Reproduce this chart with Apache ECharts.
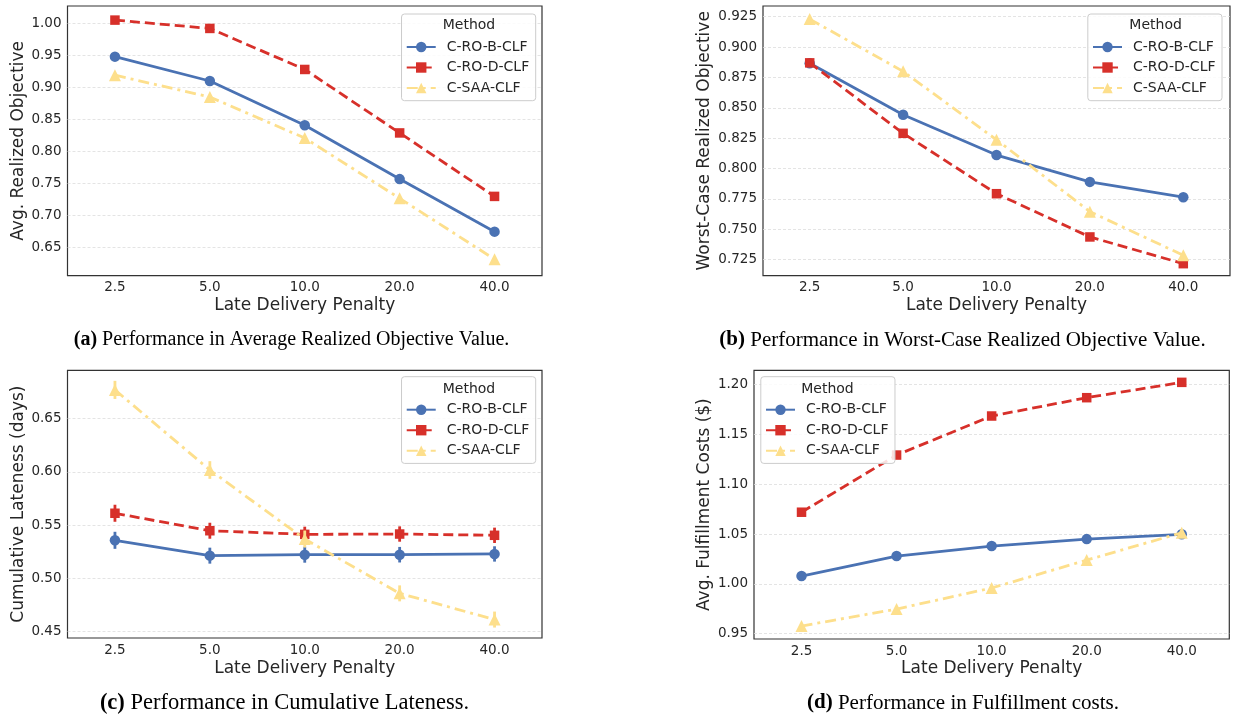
<!DOCTYPE html>
<html>
<head>
<meta charset="utf-8">
<script src="https://cdn.jsdelivr.net/npm/echarts@6/dist/echarts.min.js"></script>
<style>
  html, body { margin: 0; padding: 0; background: #fff; }
  #chart { width: 1233px; height: 717px; }
</style>
</head>
<body>
<div id="chart"></div>
<script>
// ---------------- data ----------------
const categories = ['2.5', '5.0', '10.0', '20.0', '40.0'];
const methods = ['C-RO-B-CLF', 'C-RO-D-CLF', 'C-SAA-CLF'];

// (a) Avg. realized objective
const avgObjB = [0.948, 0.910, 0.841, 0.757, 0.675];
const avgObjD = [1.005, 0.992, 0.928, 0.829, 0.730];
const avgObjS = [0.919, 0.885, 0.821, 0.727, 0.632];

// (b) Worst-case realized objective
const worstB = [0.8866, 0.8443, 0.8111, 0.7890, 0.7764];
const worstD = [0.8870, 0.8290, 0.7793, 0.7437, 0.7217];
const worstS = [0.9230, 0.8800, 0.8237, 0.7645, 0.7286];

// (c) Cumulative lateness (days) with error half-widths
const lateB = [0.5358, 0.5214, 0.5223, 0.5223, 0.5230];
const lateD = [0.5612, 0.5448, 0.5414, 0.5417, 0.5405];
const lateS = [0.6770, 0.6018, 0.5370, 0.4860, 0.4614];
const lateErrB = [0.0080, 0.0075, 0.0075, 0.0073, 0.0072];
const lateErrD = [0.0080, 0.0075, 0.0072, 0.0072, 0.0072];
const lateErrS = [0.0085, 0.0083, 0.0080, 0.0075, 0.0075];

// (d) Avg. fulfillment costs
const costB = [1.0079, 1.0280, 1.0380, 1.0450, 1.0498];
const costD = [1.0720, 1.1294, 1.1686, 1.1870, 1.2024];
const costS = [0.9577, 0.9748, 0.9959, 1.0239, 1.0514];

// tick labels
const ticksA = [0.65, 0.70, 0.75, 0.80, 0.85, 0.90, 0.95, 1.00];
const ticksB = [0.725, 0.750, 0.775, 0.800, 0.825, 0.850, 0.875, 0.900, 0.925];
const ticksC = [0.45, 0.50, 0.55, 0.60, 0.65];
const ticksD = [0.95, 1.00, 1.05, 1.10, 1.15, 1.20];

const yNames = ['Avg. Realized Objective', 'Worst-Case Realized Objective',
                'Cumulative Lateness (days)', 'Avg. Fulfillment Costs ($)'];
const xName = 'Late Delivery Penalty';

// ---------------- styles ----------------
const FONT = "'DejaVu Sans', sans-serif";
const SERIF = "'Liberation Serif', 'Times New Roman', serif";
const TXT = '#262626';
const COLORS = ['#4a72b3', '#d7302a', '#fddf8c'];
const SYMBOLS = ['circle', 'rect', 'triangle'];
const SYMSIZE = [10.5, 9.5, 12];
const DASH = ['solid', [10, 5], [11, 5, 3, 5]];

const grids = [
  { left: 67.5, top: 6, width: 474.5, height: 269.7 },
  { left: 763, top: 6, width: 467, height: 269.7 },
  { left: 67.5, top: 370.3, width: 474.5, height: 267.7 },
  { left: 754, top: 370.3, width: 475.3, height: 268.7 }
];
const yRanges = [[0.6063, 1.027], [0.7118, 0.9338], [0.4441, 0.6954], [0.9447, 1.2145]];
const yTicks = [ticksA, ticksB, ticksC, ticksD];
const yDigits = [2, 3, 2, 2];
const yNameGaps = [39, 50, 39, 41];
const xNameGaps = [21, 21, 22.5, 21];
const panelData = [
  [avgObjB, avgObjD, avgObjS],
  [worstB, worstD, worstS],
  [lateB, lateD, lateS],
  [costB, costD, costS]
];
const lateErr = [lateErrB, lateErrD, lateErrS];

const legendPos = [
  { right: 697.3, top: 14 },
  { right: 11, top: 14 },
  { right: 697.3, top: 376.7 },
  { left: 760.8, top: 376.7 }
];
const methodTitlePos = [[469, 25.7], [1155.6, 25.7], [469, 389], [827.5, 389]];

const captions = [
  { x: 291.5, y: 340, size: 20, tag: '(a)', text: ' Performance in Average Realized Objective Value.' },
  { x: 962.5, y: 340, size: 21, tag: '(b)', text: ' Performance in Worst-Case Realized Objective Value.' },
  { x: 284.5, y: 703, size: 22.5, tag: '(c)', text: ' Performance in Cumulative Lateness.' },
  { x: 963, y: 703, size: 21, tag: '(d)', text: ' Performance in Fulfillment costs.' }
];

// ---------------- build option ----------------
const xAxes = [], yAxes = [], series = [], legends = [], graphics = [];

grids.forEach((g, i) => {
  g.show = true;
  g.borderColor = '#333333';
  g.borderWidth = 1.2;
  g.backgroundColor = 'transparent';

  xAxes.push({
    type: 'category', gridIndex: i, data: categories, boundaryGap: true,
    axisLine: { show: false }, axisTick: { show: false },
    axisLabel: { fontSize: 13.5, color: TXT, fontFamily: FONT, margin: 5 },
    splitLine: { show: false },
    name: xName, nameLocation: 'middle', nameGap: xNameGaps[i],
    nameTextStyle: { fontSize: 17, color: TXT, fontFamily: FONT }
  });

  yAxes.push({
    type: 'value', gridIndex: i, min: yRanges[i][0], max: yRanges[i][1],
    axisLine: { show: false },
    axisTick: { show: false, customValues: yTicks[i] },
    axisLabel: {
      customValues: yTicks[i], fontSize: 13.5, color: TXT, fontFamily: FONT, margin: 6,
      formatter: (v) => Number(v).toFixed(yDigits[i])
    },
    splitLine: { show: true, lineStyle: { color: '#dddddd', width: 0.8, type: [3, 2] } },
    name: yNames[i], nameLocation: 'middle', nameGap: yNameGaps[i],
    nameTextStyle: { fontSize: 17, color: TXT, fontFamily: FONT }
  });

  panelData[i].forEach((vals, k) => {
    series.push({
      type: 'line', name: methods[k], xAxisIndex: i, yAxisIndex: i,
      data: vals, symbol: SYMBOLS[k], symbolSize: SYMSIZE[k],
      lineStyle: { color: COLORS[k], width: 2.8, type: DASH[k], cap: 'butt' },
      itemStyle: { color: COLORS[k], borderWidth: 0 },
      emphasis: { disabled: true }, animation: false, z: 2 + k
    });
    if (i === 2) {
      const errData = vals.map((v, j) => [j, v - lateErr[k][j], v + lateErr[k][j]]);
      series.push({
        type: 'custom', name: 'err-' + methods[k], xAxisIndex: i, yAxisIndex: i,
        data: errData, encode: { x: 0, y: [1, 2] }, animation: false, z: 2 + k,
        renderItem: (params, api) => {
          const p1 = api.coord([api.value(0), api.value(1)]);
          const p2 = api.coord([api.value(0), api.value(2)]);
          return {
            type: 'line',
            shape: { x1: p1[0], y1: p1[1], x2: p2[0], y2: p2[1] },
            style: { stroke: COLORS[k], lineWidth: 2.8 }
          };
        }
      });
    }
  });

  legends.push(Object.assign({
    orient: 'vertical', data: methods, selectedMode: false,
    itemWidth: 29, itemHeight: 13, itemGap: 6.5,
    padding: [26, 6.5, 5.7, 4.2],
    textStyle: { fontSize: 14, color: TXT, fontFamily: FONT, padding: [0, 0, 0, 6] },
    backgroundColor: 'rgba(255,255,255,0.85)',
    borderColor: '#cccccc', borderWidth: 1, borderRadius: 3, z: 10
  }, legendPos[i]));

  graphics.push({
    type: 'text', x: methodTitlePos[i][0], y: methodTitlePos[i][1], z: 100,
    style: { text: 'Method', fontSize: 14, fontFamily: FONT, fill: TXT,
             align: 'center', verticalAlign: 'middle' }
  });
});

captions.forEach(c => {
  graphics.push({
    type: 'text', x: c.x, y: c.y, z: 100,
    style: {
      text: '{b|' + c.tag + '}' + c.text,
      fontSize: c.size, fontFamily: SERIF, fill: '#000',
      align: 'center', verticalAlign: 'middle',
      rich: { b: { fontWeight: 'bold', fontSize: c.size, fontFamily: SERIF, fill: '#000' } }
    }
  });
});

const option = {
  backgroundColor: '#ffffff',
  animation: false,
  grid: grids,
  xAxis: xAxes,
  yAxis: yAxes,
  legend: legends,
  series: series,
  graphic: { elements: graphics }
};

const chart = echarts.init(document.getElementById('chart'), null, { renderer: 'canvas' });
chart.setOption(option);
</script>
</body>
</html>
